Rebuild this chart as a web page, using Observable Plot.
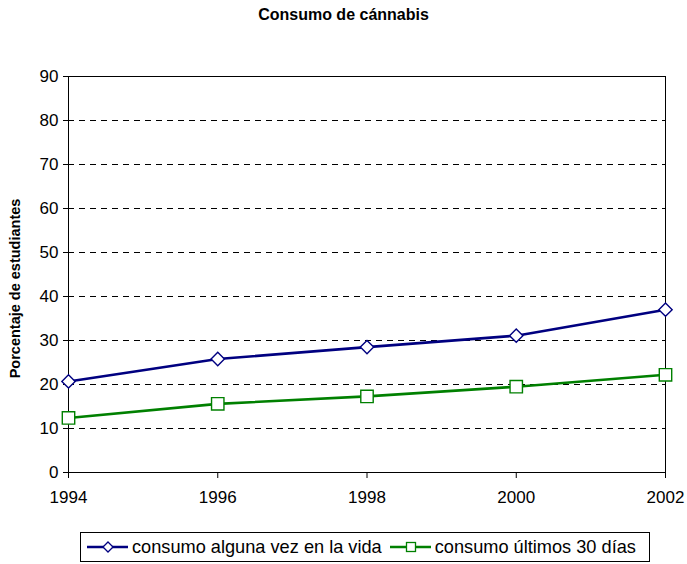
<!DOCTYPE html>
<html>
<head>
<meta charset="utf-8">
<script src="https://cdn.jsdelivr.net/npm/d3@7"></script>
<script src="https://cdn.jsdelivr.net/npm/@observablehq/plot@0.6"></script>
<style>
  body { margin: 0; background: #fff; font-family: "Liberation Sans", Arial, sans-serif; }
  #wrap { position: relative; width: 687px; height: 564px; }
  #title { position: absolute; top: 6px; left: 0; width: 687px; text-align: center; font-weight: bold; font-size: 16px; color: #000; }
  #chart svg { font-size: 17px !important; }
  #legend { position: absolute; left: 80px; top: 532px; width: 570px; height: 30px; border: 1px solid #000; box-sizing: border-box; display: flex; align-items: center; padding-left: 6px; font-size: 18.2px; color: #000; white-space: nowrap; }
  .item { display: flex; align-items: center; margin-right: 8px; }
  .item svg { margin-right: 4px; }
</style>
</head>
<body>
<div id="wrap">
  <div id="title">Consumo de cánnabis</div>
  <div id="chart"></div>
  <div id="legend"></div>
</div>
<script>
const years = [1994, 1996, 1998, 2000, 2002];
const seriesNames = ["consumo alguna vez en la vida", "consumo últimos 30 días"];
const vida = [20.7, 25.8, 28.5, 31.1, 37.0];
const ultimos30 = [12.4, 15.6, 17.3, 19.5, 22.2];
const yTicks = [0, 10, 20, 30, 40, 50, 60, 70, 80, 90];
const gridTicks = [10, 20, 30, 40, 50, 60, 70, 80];
const colors = ["#000080", "#008000"];
const yLabel = "Porcentaje de estudiantes";

const data = [];
years.forEach((y, i) => {
  data.push({year: y, value: vida[i], serie: seriesNames[0]});
  data.push({year: y, value: ultimos30[i], serie: seriesNames[1]});
});
const dataVida = data.filter(d => d.serie === seriesNames[0]);
const dataUlt = data.filter(d => d.serie === seriesNames[1]);

const chart = Plot.plot({
  width: 687,
  height: 564,
  marginLeft: 68,
  marginRight: 22,
  marginTop: 76,
  marginBottom: 92,
  style: {fontFamily: "'Liberation Sans', Arial, sans-serif", color: "#000", background: "#fff"},
  x: {domain: [1994, 2002]},
  y: {domain: [0, 90]},
  color: {domain: seriesNames, range: colors},
  marks: [
    Plot.ruleY(gridTicks, {stroke: "#000", strokeWidth: 1, strokeDasharray: "6,5"}),
    Plot.frame({stroke: "#000", strokeWidth: 1}),
    Plot.axisY({ticks: yTicks, tickSize: 5, tickPadding: 5, label: null, tickFormat: d => String(d)}),
    Plot.axisX({ticks: years, tickSize: 6, tickPadding: 12, label: null, tickFormat: d => String(d)}),
    Plot.text([yLabel], {frameAnchor: "left", textAnchor: "middle", rotate: -90, dx: -53, dy: 14, fontWeight: "bold", fontSize: 14.5}),
    Plot.line(data, {x: "year", y: "value", z: "serie", stroke: "serie", strokeWidth: 2.6}),
    Plot.dot(dataVida, {x: "year", y: "value", symbol: "diamond2", stroke: "serie", fill: "#fff", r: 6, strokeWidth: 1.4}),
    Plot.dot(dataUlt, {x: "year", y: "value", symbol: "square", stroke: "serie", fill: "#fff", r: 7, strokeWidth: 1.4})
  ]
});
document.getElementById("chart").appendChild(chart);

const legend = document.getElementById("legend");
seriesNames.forEach((name, i) => {
  const item = document.createElement("div");
  item.className = "item";
  const sym = i === 0
    ? `<polygon points="21,5 26,10 21,15 16,10" fill="#fff" stroke="${colors[i]}" stroke-width="1.3"/>`
    : `<rect x="16.5" y="5.5" width="9" height="9" fill="#fff" stroke="${colors[i]}" stroke-width="1.3"/>`;
  item.innerHTML = `<svg width="41" height="20"><line x1="0" x2="41" y1="10" y2="10" stroke="${colors[i]}" stroke-width="2.5"/>${sym}</svg><span>${name}</span>`;
  legend.appendChild(item);
});
</script>
</body>
</html>
